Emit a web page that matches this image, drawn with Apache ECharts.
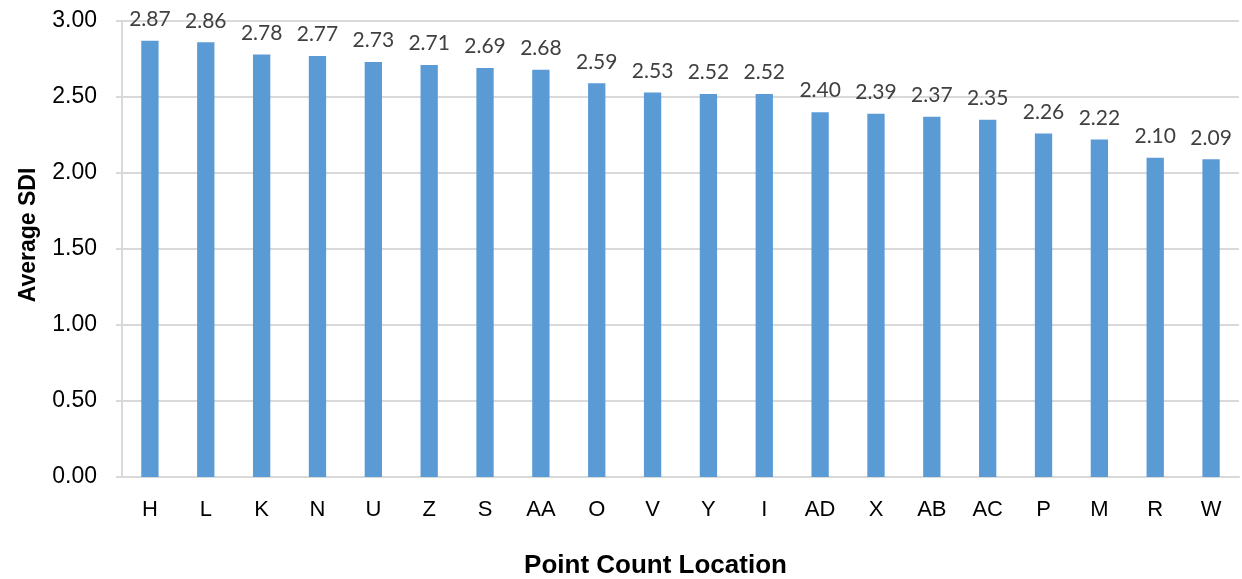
<!DOCTYPE html>
<html><head><meta charset="utf-8">
<script src="https://cdn.jsdelivr.net/npm/echarts@6/dist/echarts.min.js"></script>
<style>html,body{margin:0;padding:0;background:#fff}#c{width:1242px;height:579px}</style>
</head><body><div id="c"></div>
<script>
const categories = ["H","L","K","N","U","Z","S","AA","O","V","Y","I","AD","X","AB","AC","P","M","R","W"];
const values = [2.87,2.86,2.78,2.77,2.73,2.71,2.69,2.68,2.59,2.53,2.52,2.52,2.40,2.39,2.37,2.35,2.26,2.22,2.10,2.09];
const yTitle = "Average SDI";
const xTitle = "Point Count Location";
const sans = "'Liberation Sans',Arial,sans-serif";
const chart = echarts.init(document.getElementById('c'));
chart.setOption({
  animation:false,
  grid:{left:122,right:3,top:21,bottom:102,containLabel:false,outerBoundsMode:'none'},
  xAxis:{type:'category',data:categories,
    axisLine:{lineStyle:{color:'#d9d9d9',width:2}},
    axisTick:{show:false},
    axisLabel:{color:'#000',fontSize:22,fontFamily:sans,margin:22},
    name:xTitle,nameLocation:'middle',nameGap:76,
    nameTextStyle:{fontSize:26,fontWeight:'bold',color:'#000',fontFamily:sans,padding:[0,50,0,0]}},
  yAxis:{type:'value',min:0,max:3,interval:0.5,
    axisLine:{show:true,lineStyle:{color:'#d9d9d9',width:2}},
    axisTick:{show:true,length:6,lineStyle:{color:'#d9d9d9',width:2}},
    splitLine:{lineStyle:{color:'#d9d9d9',width:2}},
    axisLabel:{color:'#000',fontSize:23,fontFamily:sans,margin:25,formatter:v=>v.toFixed(2)},
    name:yTitle,nameLocation:'middle',nameGap:82,
    nameTextStyle:{fontSize:23,fontWeight:'bold',color:'#000',fontFamily:sans,padding:[0,0,0,28]}},
  series:[{type:'bar',data:values,barWidth:'31%',
    itemStyle:{color:'#5b9bd5'},
    label:{show:true,position:'top',distance:11,color:'#404040',fontSize:21,
      fontFamily:"Lato,'Open Sans',sans-serif",formatter:p=>p.value.toFixed(2)}}]
});
</script></body></html>
